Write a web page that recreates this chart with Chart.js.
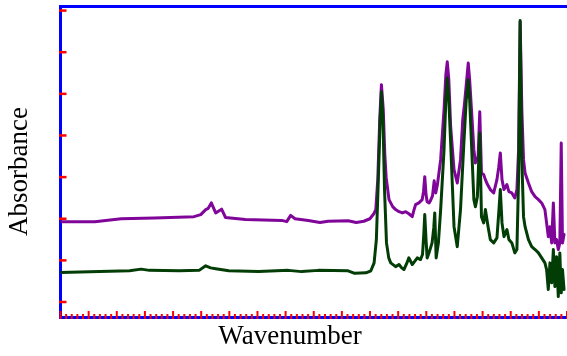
<!DOCTYPE html>
<html>
<head>
<meta charset="utf-8">
<script src="https://cdn.jsdelivr.net/npm/chart.js@4/dist/chart.umd.min.js"></script>
<style>
  html, body { margin: 0; padding: 0; background: #ffffff; }
  canvas { display: block; }
</style>
</head>
<body>
<canvas id="spectra" width="567" height="356"></canvas>
<script>
// FTIR spectra, wavenumber (cm-1) vs absorbance
const purpleWn = [4000, 3756, 3568, 3333, 3051, 3003, 2968, 2950, 2928, 2897, 2855, 2827, 2686, 2427, 2392, 2364, 2333, 2239, 2156, 2098,
  1956, 1898, 1844, 1801, 1773, 1759, 1745, 1731, 1719, 1706, 1695, 1685, 1665, 1639, 1618, 1594, 1570, 1547, 1524, 1500,
  1487, 1476, 1453, 1429, 1420, 1411, 1402, 1394, 1380, 1371, 1356, 1344, 1333, 1321, 1298, 1274, 1261, 1251, 1240, 1227,
  1203, 1180, 1157, 1141, 1128, 1116, 1102, 1092, 1079, 1062, 1051, 1032, 1020, 1008, 992, 980, 965, 945, 921, 898,
  886, 874, 862, 848, 827, 813, 792, 771, 756, 744, 733, 721, 709, 698, 674, 651, 627, 603, 580, 557,
  545, 533, 521, 509, 497, 486, 474, 462, 451, 441, 432, 421];
const purpleAbs = [0.193, 0.193, 0.200, 0.202, 0.205, 0.210, 0.222, 0.225, 0.238, 0.214, 0.223, 0.203, 0.198, 0.196, 0.193, 0.208, 0.200, 0.196, 0.191, 0.194,
  0.195, 0.191, 0.194, 0.200, 0.212, 0.222, 0.294, 0.438, 0.522, 0.462, 0.354, 0.298, 0.246, 0.229, 0.222, 0.217, 0.214, 0.217, 0.212, 0.205,
  0.222, 0.234, 0.238, 0.246, 0.265, 0.301, 0.258, 0.241, 0.238, 0.243, 0.255, 0.291, 0.262, 0.282, 0.342, 0.462, 0.546, 0.577, 0.534, 0.421,
  0.318, 0.286, 0.342, 0.438, 0.478, 0.522, 0.574, 0.534, 0.462, 0.366, 0.334, 0.349, 0.457, 0.310, 0.306, 0.294, 0.282, 0.270, 0.262, 0.294,
  0.322, 0.358, 0.294, 0.270, 0.282, 0.265, 0.262, 0.250, 0.270, 0.366, 0.673, 0.462, 0.342, 0.310, 0.286, 0.265, 0.253, 0.246, 0.238, 0.222,
  0.190, 0.157, 0.181, 0.142, 0.238, 0.142, 0.150, 0.126, 0.142, 0.382, 0.142, 0.162];

const greenWn = [4000, 3721, 3509, 3427, 3368, 3156, 3015, 2968, 2933, 2897, 2804, 2592, 2380, 2286, 2168, 1956, 1909, 1829, 1794, 1771,
  1755, 1741, 1728, 1719, 1708, 1697, 1683, 1667, 1653, 1618, 1594, 1575, 1559, 1540, 1524, 1500, 1484, 1464, 1441, 1427,
  1418, 1411, 1402, 1394, 1378, 1359, 1347, 1340, 1330, 1314, 1298, 1274, 1261, 1251, 1240, 1227, 1203, 1180, 1157, 1133,
  1116, 1102, 1092, 1079, 1062, 1051, 1037, 1020, 1008, 992, 980, 961, 945, 921, 898, 886, 874, 862, 848, 827,
  813, 792, 771, 756, 744, 733, 721, 709, 698, 674, 651, 627, 603, 580, 557, 545, 533, 521, 509, 497,
  486, 474, 462, 451, 441, 432, 421];
const greenAbs = [0.071, 0.073, 0.075, 0.079, 0.076, 0.075, 0.076, 0.087, 0.082, 0.080, 0.075, 0.073, 0.076, 0.073, 0.076, 0.075, 0.069, 0.070, 0.075, 0.094,
  0.150, 0.294, 0.438, 0.505, 0.438, 0.270, 0.142, 0.106, 0.094, 0.085, 0.090, 0.082, 0.078, 0.092, 0.106, 0.090, 0.097, 0.106, 0.102, 0.114,
  0.162, 0.210, 0.150, 0.106, 0.121, 0.142, 0.178, 0.214, 0.106, 0.142, 0.222, 0.366, 0.486, 0.538, 0.486, 0.382, 0.181, 0.133, 0.222, 0.382,
  0.486, 0.534, 0.486, 0.382, 0.246, 0.229, 0.253, 0.406, 0.205, 0.190, 0.222, 0.181, 0.150, 0.142, 0.154, 0.210, 0.270, 0.190, 0.157, 0.174,
  0.150, 0.142, 0.118, 0.126, 0.301, 0.676, 0.342, 0.205, 0.181, 0.150, 0.133, 0.126, 0.118, 0.106, 0.094, 0.078, 0.030, 0.094, 0.046, 0.126,
  0.037, 0.109, 0.013, 0.118, 0.022, 0.078, 0.030];

// axis tick marks (no labels are drawn)
const yTickValues = [0, 0.1, 0.2, 0.3, 0.4, 0.5, 0.6, 0.7];
const xMajorStep = 200;
const xMinorStep = 40;

const WN_MIN = 400, WN_MAX = 4000;

const toPoints = (xs, ys) => xs.map((x, i) => ({ x: x, y: ys[i] }));

const redTicks = {
  id: 'redTicks',
  afterDraw(chart) {
    const { ctx, chartArea: area, scales: { x, y } } = chart;
    ctx.save();
    ctx.strokeStyle = '#ff0000';
    ctx.lineWidth = 2.5;
    yTickValues.forEach(v => {
      const py = y.getPixelForValue(v);
      ctx.beginPath();
      ctx.moveTo(area.left - 1.5, py);
      ctx.lineTo(area.left + 6, py);
      ctx.stroke();
    });
    ctx.lineWidth = 2;
    for (let wn = WN_MAX; wn >= WN_MIN; wn -= xMinorStep) {
      const px = x.getPixelForValue(wn);
      const len = (wn % xMajorStep === 0) ? 6 : 3;
      ctx.beginPath();
      ctx.moveTo(px, area.bottom + 2);
      ctx.lineTo(px, area.bottom - len);
      ctx.stroke();
    }
    ctx.restore();
  }
};

const serif = { family: "'Liberation Serif', 'Times New Roman', serif", size: 27, weight: 'normal', lineHeight: 1 };
const hiddenAxis = {
  ticks: { display: false },
  grid: { display: false, drawTicks: false },
  border: { color: '#0000ff', width: 3 }
};

new Chart(document.getElementById('spectra'), {
  type: 'line',
  data: {
    datasets: [
      {
        label: 'sample B',
        data: toPoints(greenWn, greenAbs),
        borderColor: '#033d06',
        borderWidth: 3,
        order: 0
      },
      {
        label: 'sample A',
        data: toPoints(purpleWn, purpleAbs),
        borderColor: '#80069a',
        borderWidth: 3,
        order: 1
      }
    ]
  },
  options: {
    responsive: false,
    animation: false,
    parsing: false,
    elements: {
      point: { radius: 0 },
      line: { tension: 0, borderJoinStyle: 'round', borderCapStyle: 'round' }
    },
    layout: { padding: { left: 9.5, right: -3.5, top: 6, bottom: 19 } },
    scales: {
      x: Object.assign({ type: 'linear', position: 'bottom', min: WN_MIN, max: WN_MAX, reverse: true }, hiddenAxis),
      xTop: Object.assign({ type: 'linear', position: 'top', min: WN_MIN, max: WN_MAX, reverse: true }, hiddenAxis),
      y: Object.assign({ type: 'linear', position: 'left', min: -0.036, max: 0.711 }, hiddenAxis)
    },
    plugins: {
      legend: { display: false },
      tooltip: { enabled: false },
      title: {
        display: true,
        position: 'bottom',
        text: 'Wavenumber',
        color: '#000000',
        font: serif,
        padding: { top: 6.5, bottom: -13.5 }
      },
      subtitle: {
        display: true,
        position: 'left',
        text: 'Absorbance',
        color: '#000000',
        font: serif,
        padding: { top: -3.5, bottom: 27.5 }
      }
    }
  },
  plugins: [redTicks]
});
</script>
</body>
</html>
